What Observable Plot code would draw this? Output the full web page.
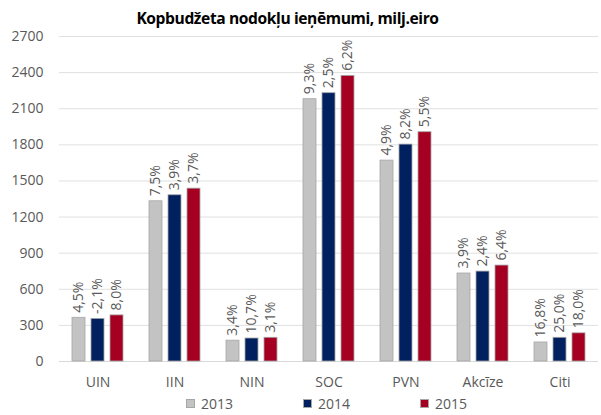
<!DOCTYPE html>
<html>
<head>
<meta charset="utf-8">
<script src="https://cdn.jsdelivr.net/npm/d3@7"></script>
<script src="https://cdn.jsdelivr.net/npm/@observablehq/plot@0.6"></script>
<style>
  body { margin: 0; background: #fff; font-family: "Open Sans", sans-serif; width: 601px; height: 415px; overflow: hidden; position: relative; }
  #title { position: absolute; left: 0; top: 0; width: 601px; height: 28px; box-sizing: border-box; padding-top: 8px; line-height: 20px; font-weight: bold; font-size: 15.6px; letter-spacing: -0.4px; color: #000; text-align: center; padding-right: 26px; white-space: nowrap; }
  #legend { display: flex; height: 23px; align-items: center; padding-left: 186px; font-size: 14px; color: #595959; }
  .item { display: flex; align-items: center; width: 117px; }
  .sw { width: 9px; height: 9px; margin-right: 6px; box-sizing: border-box; border: 1px solid #a6a6a6; }
  #chart svg { display: block; }
</style>
</head>
<body>
<div id="chart"></div>
<div id="legend"></div>
<div id="title">Kopbudžeta nodokļu ieņēmumi, milj.eiro</div>
<script>
const categories = ["UIN", "IIN", "NIN", "SOC", "PVN", "Akcīze", "Citi"];
const years = ["2013", "2014", "2015"];
const values2013 = [363, 1331, 173, 2179, 1669, 731, 158];
const values2014 = [354, 1381, 191, 2229, 1802, 747, 197];
const values2015 = [383, 1436, 197, 2373, 1905, 797, 234];
const labels2013 = ["4,5%", "7,5%", "3,4%", "9,3%", "4,9%", "3,9%", "16,8%"];
const labels2014 = ["-2,1%", "3,9%", "10,7%", "2,5%", "8,2%", "2,4%", "25,0%"];
const labels2015 = ["8,0%", "3,7%", "3,1%", "6,2%", "5,5%", "6,4%", "18,0%"];
const yTicks = [0, 300, 600, 900, 1200, 1500, 1800, 2100, 2400, 2700];
const colors = ["#c3c3c3", "#002060", "#a50021"];

const seriesValues = [values2013, values2014, values2015];
const seriesLabels = [labels2013, labels2014, labels2015];
const data = [];
categories.forEach((c, i) => {
  years.forEach((y, j) => {
    data.push({cat: c, year: y, value: seriesValues[j][i], label: seriesLabels[j][i]});
  });
});

const chart = Plot.plot({
  width: 601,
  height: 392,
  marginLeft: 56,
  marginRight: 0,
  marginTop: 36,
  marginBottom: 31,
  style: {fontFamily: "Open Sans, sans-serif", fontSize: "14px", color: "#595959", background: "transparent"},
  fx: {domain: categories, padding: 0, label: null, axis: "bottom", tickSize: 0, tickPadding: 16},
  x: {domain: years, axis: null, paddingInner: 0.3, paddingOuter: 0.6},
  y: {domain: [0, 2700], ticks: yTicks, tickFormat: d => String(d), grid: true, label: null, tickSize: 0, tickPadding: 16},
  color: {domain: years, range: colors},
  marks: [
    Plot.ruleY([0], {stroke: "#d9d9d9"}),
    Plot.barY(data, {fx: "cat", x: "year", y: "value", fill: "year", stroke: "#a6a6a6", strokeWidth: 0.8}),
    Plot.text(data, {fx: "cat", x: "year", y: "value", text: "label", rotate: -90, textAnchor: "start", dy: -5, fill: "#595959", fontSize: 14})
  ]
});
document.getElementById("chart").appendChild(chart);
chart.querySelectorAll("[aria-label='y-grid'] line, g[aria-label='y-axis grid'] line").forEach(l => { l.setAttribute("stroke", "#e0e0e0"); l.setAttribute("stroke-opacity", 1); });

const legend = document.getElementById("legend");
years.forEach((y, j) => {
  const item = document.createElement("div");
  item.className = "item";
  const sw = document.createElement("div");
  sw.className = "sw";
  sw.style.background = colors[j];
  const t = document.createElement("span");
  t.textContent = y;
  item.appendChild(sw);
  item.appendChild(t);
  legend.appendChild(item);
});
</script>
</body>
</html>
